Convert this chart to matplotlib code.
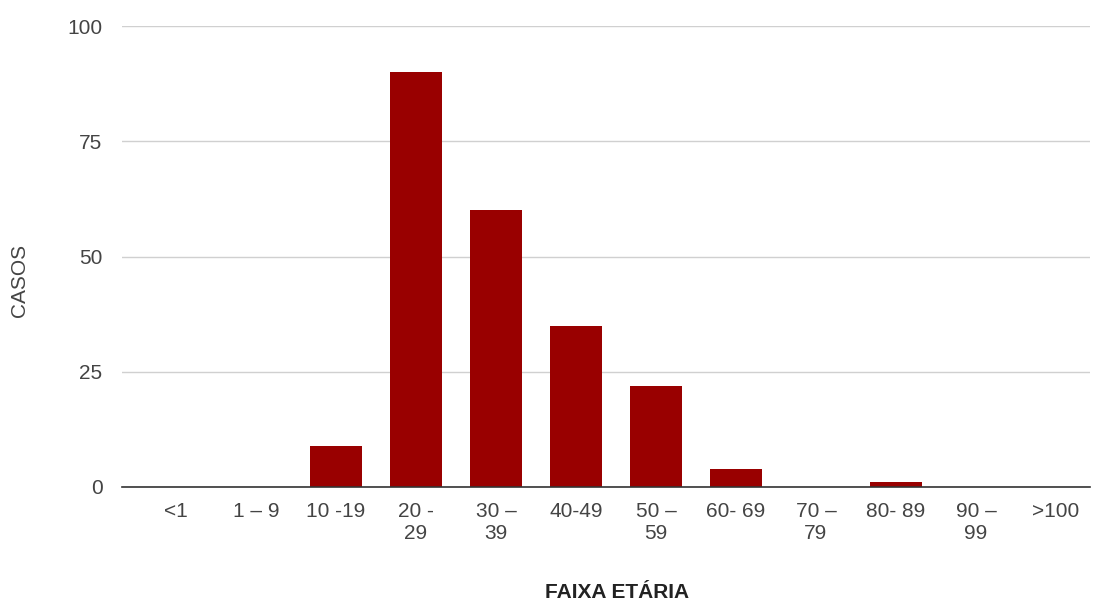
import matplotlib.pyplot as plt
import numpy as np

plt.rcParams['font.family'] = ['Liberation Sans', 'DejaVu Sans']

faixas = ['<1', '1 – 9', '10 -19', '20 -\n29', '30 –\n39', '40-49',
          '50 –\n59', '60- 69', '70 –\n79', '80- 89', '90 –\n99', '>100']
casos = [0, 0, 9, 90, 60, 35, 22, 4, 0, 1, 0, 0]
yticks = [0, 25, 50, 75, 100]

fig = plt.figure(figsize=(10.99, 6.01), dpi=100)
ax = fig.add_axes([122 / 1099, 114 / 601, 968 / 1099, 461 / 601])

x = np.arange(len(faixas))
ax.bar(x, casos, width=0.65, color='#990000', zorder=3)

ax.set_xlim(-0.675, 11.425)
ax.set_ylim(0, 100)
ax.set_yticks(yticks)
ax.set_xticks(x)
ax.set_xticklabels(faixas, fontsize=15, color='#444444', linespacing=1.15)
ax.tick_params(axis='y', length=0, pad=14, labelsize=15, labelcolor='#444444')
ax.tick_params(axis='x', length=0, pad=11)
ax.grid(axis='y', color='#d0d0d0', linewidth=1, zorder=0)
for s in ['top', 'right', 'left']:
    ax.spines[s].set_visible(False)
ax.spines['bottom'].set_color('#333333')
ax.spines['bottom'].set_linewidth(1.2)
ax.spines['bottom'].set_zorder(4)

fig.text(20 / 1099, 1 - 280 / 601, 'CASOS', rotation=90, ha='center', va='center',
         fontsize=15, color='#444444')
fig.text(617 / 1099, 1 - 593 / 601, 'FAIXA ETÁRIA', ha='center', va='center',
         fontsize=15, fontweight='bold', color='#222222')

fig.savefig('out.png', dpi=100)
